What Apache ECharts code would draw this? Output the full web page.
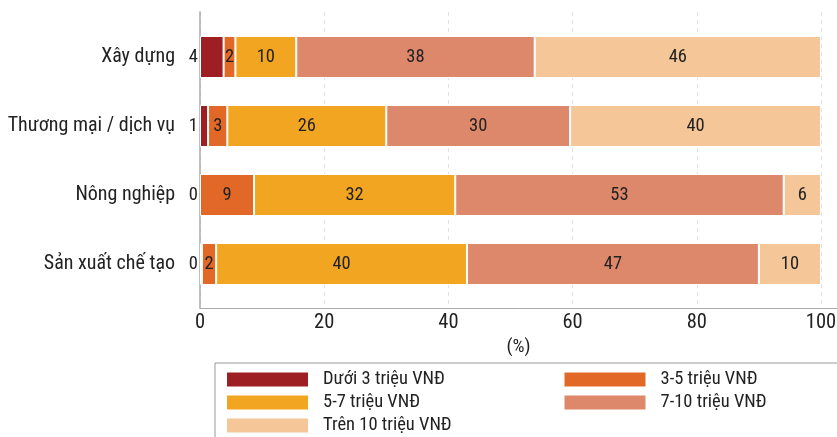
<!DOCTYPE html>
<html>
<head>
<meta charset="utf-8">
<script src="https://cdn.jsdelivr.net/npm/echarts@6/dist/echarts.min.js"></script>
<style>
html,body{margin:0;padding:0;background:#fff;}
#chart{width:837px;height:437px;}
</style>
</head>
<body>
<div id="chart"></div>
<script>
const categories = ['Xây dựng', 'Thương mại / dịch vụ', 'Nông nghiệp', 'Sản xuất chế tạo'];
const seriesNames = ['Dưới 3 triệu VNĐ', '3-5 triệu VNĐ', '5-7 triệu VNĐ', '7-10 triệu VNĐ', 'Trên 10 triệu VNĐ'];
const duoi3 = [3.8, 1.3, 0, 0.3];
const tu3den5 = [1.9, 3.1, 8.7, 2.3];
const tu5den7 = [9.8, 25.6, 32.4, 40.4];
const tu7den10 = [38.4, 29.6, 52.9, 47.0];
const tren10 = [46.1, 40.4, 6.0, 10.0];
const xTicks = [0, 20, 40, 60, 80, 100];
const xAxisName = '(%)';

const colors = ['#9E1F23', '#E26828', '#F2A520', '#DD886B', '#F5C698'];
const FONT = 'Roboto Condensed';
const TXT = '#222';
const X_MAX = 102.58;
const seriesData = [duoi3, tu3den5, tu5den7, tu7den10, tren10];

const chart = echarts.init(document.getElementById('chart'), null, {renderer: 'canvas'});

const series = seriesData.map((arr, i) => ({
  name: seriesNames[i],
  type: 'bar',
  stack: 'total',
  xAxisIndex: 1,
  yAxisIndex: 1,
  barWidth: 42,
  itemStyle: {color: colors[i], borderColor: '#fff', borderWidth: 1},
  label: {
    show: true,
    position: i === 0 ? 'left' : 'inside',
    distance: 2,
    color: TXT,
    fontFamily: FONT,
    fontSize: 18.5,
    formatter: p => String(Math.round(p.value))
  },
  emphasis: {disabled: true},
  data: arr.map(v => v === 0 ? {value: v, itemStyle: {borderWidth: 0}} : v)
}));

chart.setOption({
  animation: false,
  color: colors,
  textStyle: {fontFamily: FONT},
  grid: [
    {left: 200, right: 0, top: 12, bottom: 129, outerBoundsMode: 'none', containLabel: false},
    {left: 200, right: 0, top: 22.5, bottom: 138.5, outerBoundsMode: 'none', containLabel: false}
  ],
  xAxis: [
    {
      gridIndex: 0, type: 'value', min: 0, max: X_MAX, interval: 20,
      name: xAxisName, nameLocation: 'middle', nameGap: 26,
      nameTextStyle: {color: TXT, fontFamily: FONT, fontSize: 19},
      axisLine: {show: true, lineStyle: {color: '#aaa', width: 1}},
      axisTick: {show: false},
      axisLabel: {
        color: TXT, fontFamily: FONT, fontSize: 20.5, margin: 4,
        formatter: v => xTicks.indexOf(Math.round(v * 1000) / 1000) >= 0 ? String(v) : ''
      },
      splitLine: {show: true, lineStyle: {color: '#e2e2e2', type: [4, 4], width: 1}}
    },
    {gridIndex: 1, type: 'value', min: 0, max: X_MAX, show: false}
  ],
  yAxis: [
    {
      gridIndex: 0, type: 'value', min: 0, max: 1,
      axisLine: {show: true, lineStyle: {color: '#aaa', width: 1.5}},
      axisTick: {show: false}, axisLabel: {show: false}, splitLine: {show: false}
    },
    {
      gridIndex: 1, type: 'category', data: categories, inverse: true,
      axisLine: {show: false}, axisTick: {show: false}, splitLine: {show: false},
      axisLabel: {color: TXT, fontFamily: FONT, fontSize: 20, margin: 25}
    }
  ],
  legend: {
    data: seriesNames,
    left: 215, top: 363, width: 700,
    orient: 'horizontal',
    icon: 'rect',
    itemWidth: 83, itemHeight: 16, itemGap: 4,
    padding: [7, 10, 12, 10],
    borderColor: '#999', borderWidth: 1,
    selectedMode: false,
    textStyle: {color: TXT, fontFamily: FONT, fontSize: 18.5, width: 235.5, height: 16, lineHeight: 16, padding: [0, 0, 0, 9]}
  },
  series: series
});
</script>
</body>
</html>
